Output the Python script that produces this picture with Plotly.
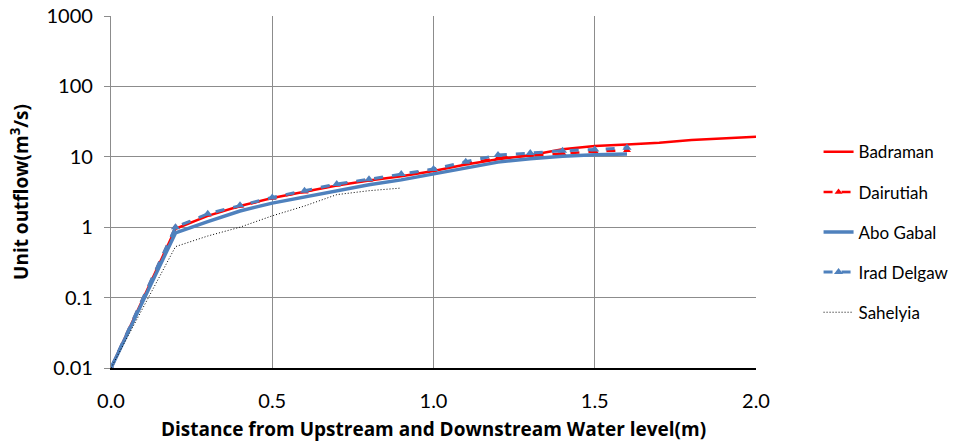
import plotly.graph_objects as go

# ---- data ----
x_bad = [0, 0.2, 0.3, 0.4, 0.5, 0.6, 0.7, 0.8, 0.9, 1.0, 1.1, 1.2, 1.3, 1.4, 1.5, 1.6, 1.7, 1.8, 1.9, 2.0]
y_bad = [0.01, 0.95, 1.45, 2.0, 2.6, 3.2, 3.9, 4.6, 5.3, 6.3, 7.8, 9.2, 10.5, 12.8, 14.2, 15.0, 15.8, 17.3, 18.3, 19.3]

x_dai = [0, 0.2, 0.3, 0.4, 0.5, 0.6, 0.7, 0.8, 0.9, 1.0, 1.1, 1.2, 1.3, 1.4, 1.5, 1.6]
y_dai = [0.01, 1.0, 1.5, 2.0, 2.6, 3.2, 4.0, 4.7, 5.5, 6.5, 8.0, 9.6, 10.4, 11.2, 11.9, 12.4]

x_abo = [0, 0.2, 0.3, 0.4, 0.5, 0.6, 0.7, 0.8, 0.9, 1.0, 1.1, 1.2, 1.3, 1.4, 1.5, 1.6]
y_abo = [0.01, 0.83, 1.2, 1.7, 2.2, 2.7, 3.3, 4.0, 4.7, 5.7, 7.0, 8.4, 9.4, 10.2, 10.7, 11.0]

x_ira = [0, 0.2, 0.3, 0.4, 0.5, 0.6, 0.7, 0.8, 0.9, 1.0, 1.1, 1.2, 1.3, 1.4, 1.5, 1.6]
y_ira = [0.01, 1.0, 1.55, 2.05, 2.65, 3.3, 4.1, 4.8, 5.7, 6.7, 8.5, 10.6, 11.3, 12.2, 12.7, 13.4]

x_sah = [0, 0.2, 0.3, 0.4, 0.5, 0.6, 0.7, 0.8, 0.9]
y_sah = [0.01, 0.53, 0.75, 1.0, 1.45, 2.0, 2.9, 3.3, 3.6]

y_tickvals = [0.01, 0.1, 1, 10, 100, 1000]
y_ticktext = ["0.01", "0.1", "1", "10", "100", "1000"]

RED = "#FF0000"
BLUE = "#4F81BD"

fig = go.Figure()
fig.add_trace(go.Scatter(x=x_bad, y=y_bad, name="Badraman", mode="lines",
                         line=dict(color=RED, width=2.5), legendgroup="a"))
fig.add_trace(go.Scatter(x=x_dai, y=y_dai, name="Dairutiah", mode="lines+markers",
                         line=dict(color=RED, width=2.5, dash="dash"),
                         marker=dict(symbol="triangle-up", size=7, color=RED), legendgroup="b"))
fig.add_trace(go.Scatter(x=x_abo, y=y_abo, name="Abo Gabal", mode="lines",
                         line=dict(color=BLUE, width=3.5), legendgroup="c"))
fig.add_trace(go.Scatter(x=x_ira, y=y_ira, name="Irad Delgaw", mode="lines+markers",
                         line=dict(color=BLUE, width=3, dash="dash"),
                         marker=dict(symbol="triangle-up", size=8, color=BLUE), legendgroup="d"))
fig.add_trace(go.Scatter(x=x_sah, y=y_sah, name="Sahelyia", mode="lines",
                         line=dict(color="#000000", width=1, dash="1px,2px"), legendgroup="e"))

FONT = "Lato, Open Sans, Arial, sans-serif"
TFONT = "Open Sans, Lato, Arial, sans-serif"
fig.update_layout(
    width=975, height=448,
    margin=dict(l=111, r=219, t=16, b=80, autoexpand=False),
    paper_bgcolor="white", plot_bgcolor="white",
    font=dict(family=FONT, color="#000000"),
    showlegend=True,
    legend=dict(x=1.097, y=0.664, xanchor="left", yanchor="top",
                font=dict(size=17, family=FONT), tracegroupgap=15,
                bgcolor="rgba(0,0,0,0)"),
    xaxis=dict(range=[0, 2], tick0=0, dtick=0.5, tickformat=".1f", automargin=False,
               showgrid=True, gridcolor="#8C8C8C", gridwidth=1.3,
               showline=True, linecolor="#000000", linewidth=1.5,
               ticks="", ticklabelstandoff=14,
               tickfont=dict(size=20, family=FONT), zeroline=False,
               title=dict(text="<b>Distance from Upstream and Downstream Water level(m)</b>",
                          font=dict(size=19, family=TFONT), standoff=12)),
    yaxis=dict(type="log", range=[-2, 3], tickvals=y_tickvals, ticktext=y_ticktext,
               automargin=False,
               showgrid=True, gridcolor="#8C8C8C", gridwidth=1.3,
               showline=True, linecolor="#8C8C8C", linewidth=1.3,
               ticks="outside", ticklen=6, tickcolor="#8C8C8C", ticklabelstandoff=7,
               tickfont=dict(size=20, family=FONT), zeroline=False,
               title=dict(text="<b>Unit outflow(m<sup>3</sup>/s)</b>",
                          font=dict(size=19, family=TFONT), standoff=12)),
)

fig.write_html("out.html")
